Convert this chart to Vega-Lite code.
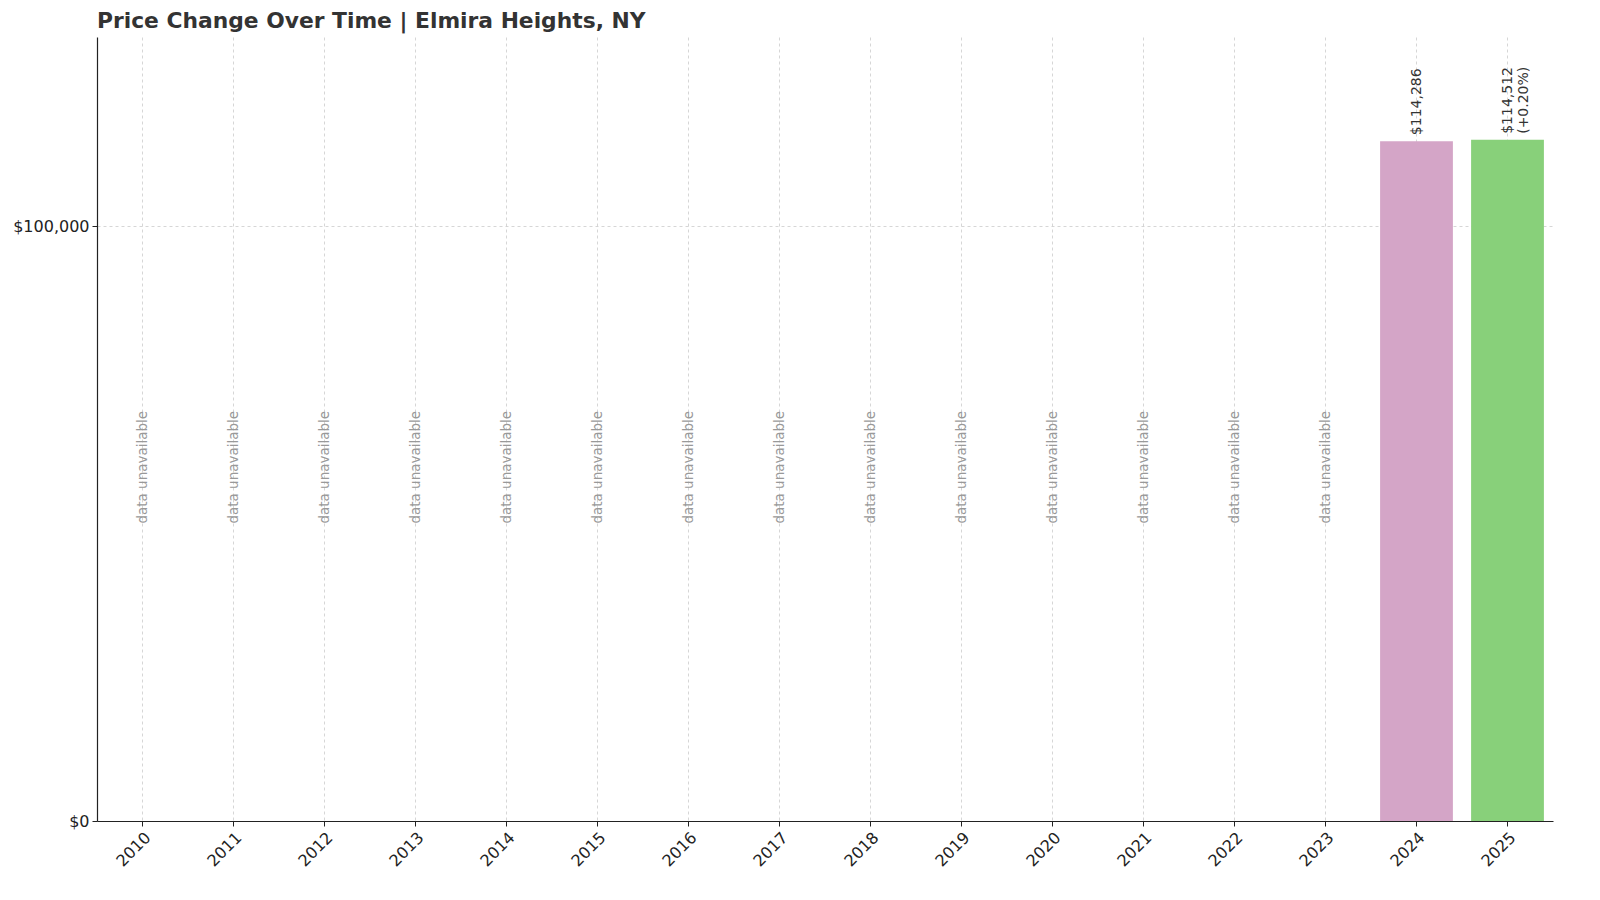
{
  "$schema": "https://vega.github.io/schema/vega-lite/v6.json",
  "width": 1600,
  "height": 900,
  "autosize": {"type": "fit", "contains": "padding"},
  "padding": {"left": 12, "top": 11, "right": 47, "bottom": 30},
  "background": "white",
  "title": {
    "text": "Price Change Over Time | Elmira Heights, NY",
    "anchor": "start",
    "frame": "group",
    "font": "DejaVu Sans",
    "fontSize": 21.8,
    "fontWeight": "bold",
    "color": "#333333",
    "offset": 4
  },
  "config": {
    "view": {"stroke": null},
    "font": "DejaVu Sans"
  },
  "data": {
    "values": [
      {"year": "2010", "price": null, "label": "", "note": "data unavailable", "color": "none"},
      {"year": "2011", "price": null, "label": "", "note": "data unavailable", "color": "none"},
      {"year": "2012", "price": null, "label": "", "note": "data unavailable", "color": "none"},
      {"year": "2013", "price": null, "label": "", "note": "data unavailable", "color": "none"},
      {"year": "2014", "price": null, "label": "", "note": "data unavailable", "color": "none"},
      {"year": "2015", "price": null, "label": "", "note": "data unavailable", "color": "none"},
      {"year": "2016", "price": null, "label": "", "note": "data unavailable", "color": "none"},
      {"year": "2017", "price": null, "label": "", "note": "data unavailable", "color": "none"},
      {"year": "2018", "price": null, "label": "", "note": "data unavailable", "color": "none"},
      {"year": "2019", "price": null, "label": "", "note": "data unavailable", "color": "none"},
      {"year": "2020", "price": null, "label": "", "note": "data unavailable", "color": "none"},
      {"year": "2021", "price": null, "label": "", "note": "data unavailable", "color": "none"},
      {"year": "2022", "price": null, "label": "", "note": "data unavailable", "color": "none"},
      {"year": "2023", "price": null, "label": "", "note": "data unavailable", "color": "none"},
      {"year": "2024", "price": 114286, "label": "$114,286", "note": "", "color": "#d4a5c7"},
      {"year": "2025", "price": 114512, "label": "$114,512\n(+0.20%)", "note": "", "color": "#88d07a"}
    ]
  },
  "encoding": {
    "x": {
      "field": "year",
      "type": "ordinal",
      "scale": {"paddingInner": 0.2, "paddingOuter": 0.1},
      "axis": {
        "title": null,
        "labelAngle": -45,
        "labelAlign": "right",
        "labelBaseline": "top",
        "labelFontSize": 16,
        "labelColor": "#222222",
        "labelPadding": 3,
        "tickColor": "#222222",
        "tickSize": 5,
        "domainColor": "#222222",
        "domainWidth": 1.2,
        "grid": true,
        "gridDash": [3, 3],
        "gridColor": "#cccccc",
        "gridWidth": 0.8,
        "bandPosition": 0.5
      }
    }
  },
  "layer": [
    {
      "mark": {"type": "bar"},
      "encoding": {
        "y": {
          "field": "price",
          "type": "quantitative",
          "scale": {"domain": [0, 131800], "nice": false},
          "axis": {
            "title": null,
            "values": [0, 100000],
            "format": "$,.0f",
            "labelFontSize": 16,
            "labelColor": "#222222",
            "labelPadding": 3,
            "tickColor": "#222222",
            "tickSize": 5,
            "domainColor": "#222222",
            "domainWidth": 1.2,
            "grid": true,
            "gridDash": [3, 3],
            "gridColor": "#cccccc",
            "gridWidth": 0.8
          }
        },
        "color": {"field": "color", "type": "nominal", "scale": null, "legend": null}
      }
    },
    {
      "mark": {"type": "text", "angle": 270, "align": "left", "baseline": "middle", "dx": 6, "fontSize": 14, "color": "#333333", "lineBreak": "\n", "lineHeight": 16},
      "encoding": {
        "y": {"field": "price", "type": "quantitative"},
        "text": {"field": "label"}
      }
    },
    {
      "mark": {"type": "text", "angle": 270, "align": "left", "baseline": "middle", "fontSize": 13.5, "color": "#999999"},
      "encoding": {
        "y": {"datum": 50000, "type": "quantitative"},
        "text": {"field": "note"}
      }
    }
  ]
}
